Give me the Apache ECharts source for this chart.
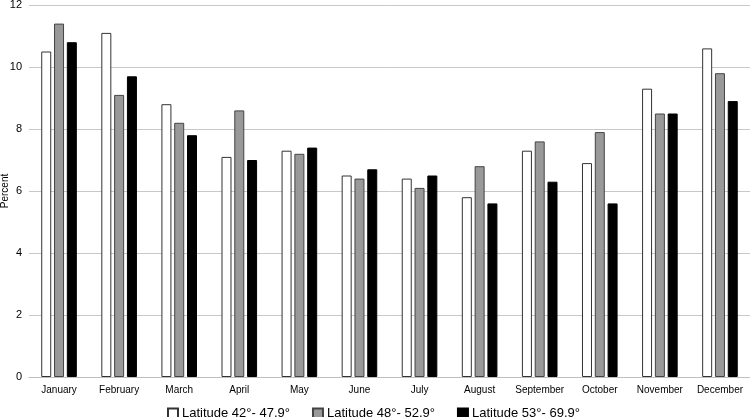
<!DOCTYPE html>
<html><head><meta charset="utf-8">
<script src="https://cdn.jsdelivr.net/npm/echarts@6/dist/echarts.min.js"></script>
<style>html,body{margin:0;padding:0;background:#fff}#c{width:750px;height:417px}</style>
</head><body><div id="c"></div>
<script>
const months = ["January","February","March","April","May","June","July","August","September","October","November","December"];
const seriesNames = ["Latitude 42°- 47.9°","Latitude 48°- 52.9°","Latitude 53°- 69.9°"];
const lat42 = [10.5, 11.1, 8.8, 7.1, 7.3, 6.5, 6.4, 5.8, 7.3, 6.9, 9.3, 10.6];
const lat48 = [11.4, 9.1, 8.2, 8.6, 7.2, 6.4, 6.1, 6.8, 7.6, 7.9, 8.5, 9.8];
const lat53 = [10.8, 9.7, 7.8, 7.0, 7.4, 6.7, 6.5, 5.6, 6.3, 5.6, 8.5, 8.9];
const yTicks = [0, 2, 4, 6, 8, 10, 12];

const fills = ["#ffffff", "#999999", "#000000"];
const borders = ["#333333", "#444444", "#000000"];
const font = "Liberation Sans";
const chart = echarts.init(document.getElementById('c'));
chart.setOption({
  animation: false,
  textStyle: {fontFamily: font},
  grid: {left: 29, right: 0, top: 5, bottom: 40, containLabel: false, outerBoundsMode: 'none'},
  legend: {
    left: 162, top: 402, itemWidth: 10, itemHeight: 10, itemGap: 22,
    icon: 'rect',
    textStyle: {fontSize: 13, color: '#000', fontFamily: font, padding: [0,0,0,-1]},
    data: seriesNames
  },
  xAxis: {
    type: 'category', data: months,
    axisLine: {lineStyle: {color: '#bfbfbf'}},
    axisTick: {show: false},
    axisLabel: {fontSize: 10, color: '#000', margin: 8, interval: 0}
  },
  yAxis: {
    type: 'value', min: yTicks[0], max: yTicks[yTicks.length-1], interval: 2,
    name: 'Percent', nameLocation: 'middle', nameGap: 19, nameRotate: 90,
    nameMoveOverlap: false,
    nameTextStyle: {fontSize: 10, color: '#000'},
    axisLine: {show: false}, axisTick: {show: false},
    axisLabel: {fontSize: 11, color: '#000', margin: 7},
    splitLine: {lineStyle: {color: '#c8c8c8'}}
  },
  series: [lat42, lat48, lat53].map((d, i) => ({
    name: seriesNames[i], type: 'bar', data: d,
    barWidth: 10, barGap: '28%',
    itemStyle: {color: fills[i], borderColor: borders[i], borderWidth: 1}
  }))
});
</script></body></html>
